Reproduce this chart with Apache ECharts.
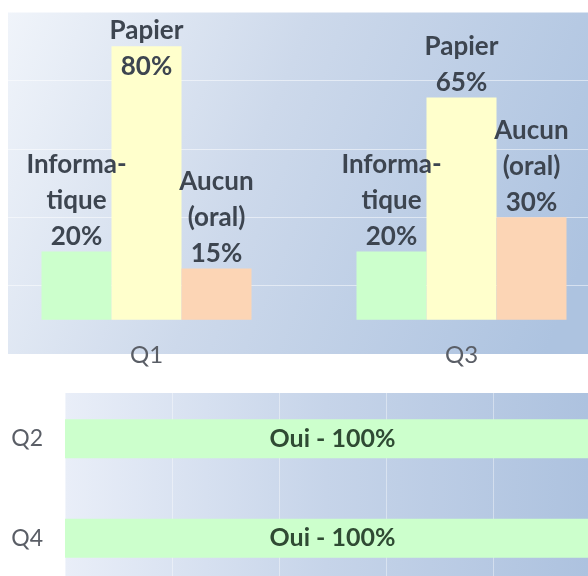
<!DOCTYPE html>
<html>
<head>
<meta charset="utf-8">
<script src="https://cdn.jsdelivr.net/npm/echarts@6/dist/echarts.min.js"></script>
<style>
  html, body { margin: 0; padding: 0; background: #fff; }
  #chart { width: 588px; height: 576px; }
</style>
</head>
<body>
<div id="chart"></div>
<script>
// Q1 / Q3 : support de réponse
var topCategories = ['Q1', 'Q3'];
var informatique = [20, 20];
var papier = [80, 65];
var aucun = [15, 30];

// Q2 / Q4 : oui
var bottomCategories = ['Q2', 'Q4'];
var oui = [100, 100];

var chart = echarts.init(document.getElementById('chart'));

var labelStyle = {
    show: true,
    position: 'top',
    distance: -3,
    fontFamily: 'Lato',
    fontWeight: 'bold',
    fontSize: 26,
    lineHeight: 36,
    color: '#3d4550'
};

function topSeries(name, title, values, color) {
    return {
        name: name,
        type: 'bar',
        xAxisIndex: 0,
        yAxisIndex: 0,
        barWidth: 70,
        barGap: '0%',
        itemStyle: { color: color },
        label: Object.assign({}, labelStyle, {
            formatter: function (p) { return title + '\n' + p.value + '%'; }
        }),
        data: values.map(function (v) { return v; })
    };
}

var papierSeries = topSeries('Papier', 'Papier', papier, '#ffffcc');
// l'étiquette de Q1 est poussée dans la barre (trop haute sinon)
papierSeries.data[0] = { value: papier[0], label: { offset: [0, 35] } };

option = {
    animation: false,
    graphic: [
        {
            type: 'rect', z: -10, silent: true,
            shape: { x: 8, y: 12, width: 580, height: 342 },
            style: {
                fill: new echarts.graphic.LinearGradient(0, 0, 1, 0.7, [
                    { offset: 0, color: '#f0f4fa' },
                    { offset: 0.45, color: '#cdd9eb' },
                    { offset: 1, color: '#adc3e0' }
                ])
            }
        },
        {
            type: 'rect', z: -10, silent: true,
            shape: { x: 65, y: 393, width: 523, height: 183 },
            style: {
                fill: new echarts.graphic.LinearGradient(0, 0, 1, 0, [
                    { offset: 0, color: '#e9eef8' },
                    { offset: 0.5, color: '#c6d4e9' },
                    { offset: 1, color: '#adc2df' }
                ])
            }
        }
    ],
    grid: [
        { left: -11, width: 630, top: 12, height: 342, outerBoundsMode: 'none' },
        { left: 65, width: 535, top: 389, height: 199, outerBoundsMode: 'none' }
    ],
    xAxis: [
        {
            type: 'category',
            gridIndex: 0,
            data: topCategories,
            axisLine: { show: false, onZero: false },
            axisTick: { show: false },
            axisLabel: {
                margin: -11,
                fontFamily: 'Lato',
                fontSize: 24,
                color: '#5a5e66'
            }
        },
        {
            type: 'value',
            gridIndex: 1,
            min: 0,
            max: 100,
            interval: 20,
            axisLine: { show: false },
            axisTick: { show: false },
            axisLabel: { show: false },
            splitLine: { lineStyle: { color: 'rgba(255,255,255,0.4)', width: 1 } }
        }
    ],
    yAxis: [
        {
            type: 'value',
            gridIndex: 0,
            min: -10,
            max: 90,
            interval: 20,
            axisLine: { show: false },
            axisTick: { show: false },
            axisLabel: { show: false },
            splitLine: { lineStyle: { color: 'rgba(255,255,255,0.5)', width: 1 } }
        },
        {
            type: 'category',
            gridIndex: 1,
            inverse: true,
            data: bottomCategories,
            axisLine: { show: false },
            axisTick: { show: false },
            axisLabel: {
                margin: 22,
                fontFamily: 'Lato',
                fontSize: 23,
                color: '#5a5e66'
            }
        }
    ],
    series: [
        topSeries('Informatique', 'Informa-\ntique', informatique, '#ccffcc'),
        papierSeries,
        topSeries('Aucun (oral)', 'Aucun\n(oral)', aucun, '#fcd5b5'),
        {
            name: 'Oui',
            type: 'bar',
            xAxisIndex: 1,
            yAxisIndex: 1,
            barWidth: 39,
            itemStyle: { color: '#ccffcc' },
            label: {
                show: true,
                position: 'inside',
                fontFamily: 'Lato',
                fontWeight: 'bold',
                fontSize: 25,
                color: '#2f4a33',
                formatter: function (p) { return 'Oui - ' + p.value + '%'; }
            },
            data: oui
        }
    ]
};

chart.setOption(option);
</script>
</body>
</html>
